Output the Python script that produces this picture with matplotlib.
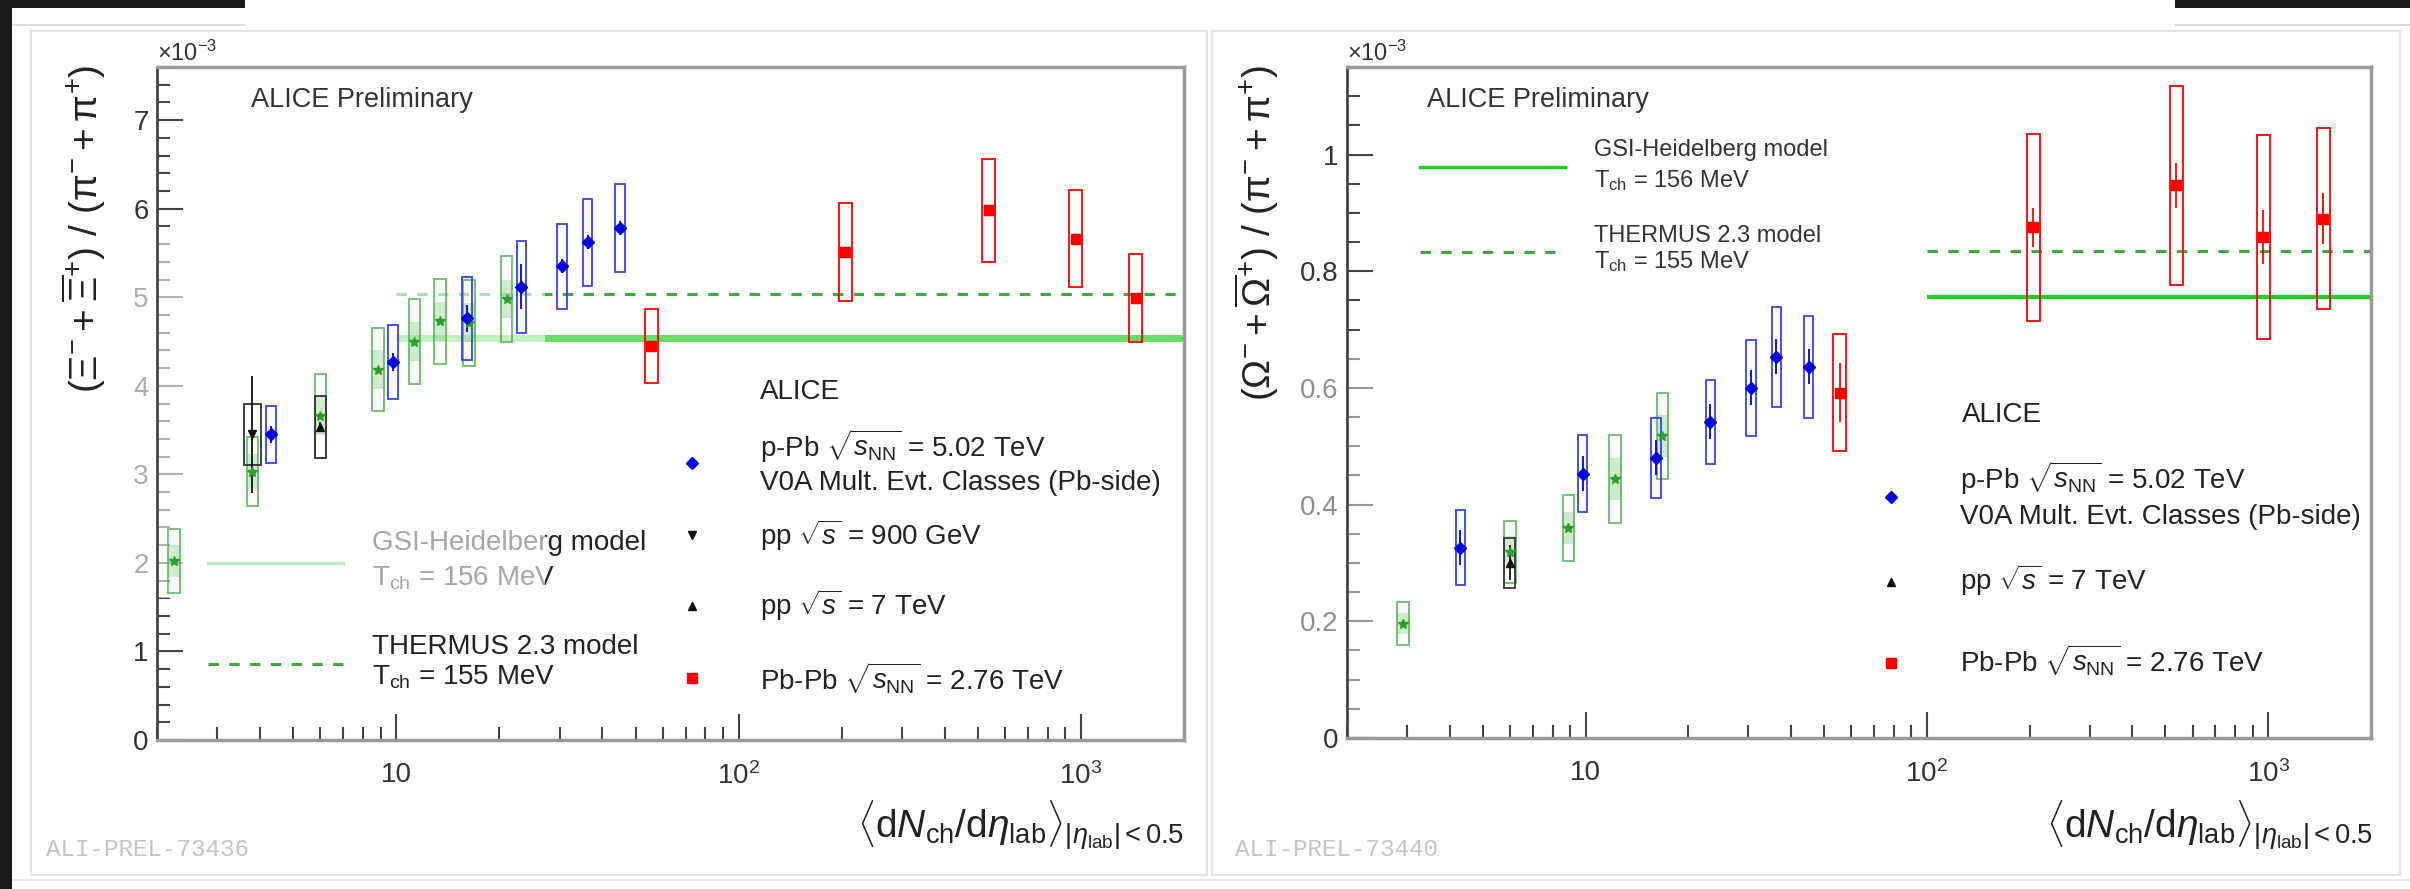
import numpy as np
import matplotlib
matplotlib.use("Agg")
import matplotlib.pyplot as plt
from matplotlib.patches import Rectangle
from matplotlib.ticker import LogLocator, NullFormatter, MultipleLocator

plt.rcParams['font.family'] = ['Liberation Sans', 'DejaVu Sans']
plt.rcParams['mathtext.fontset'] = 'custom'
plt.rcParams['mathtext.rm'] = 'Liberation Sans'
plt.rcParams['mathtext.it'] = 'Liberation Sans:italic'
plt.rcParams['mathtext.bf'] = 'Liberation Sans:bold'
plt.rcParams['mathtext.sf'] = 'Liberation Sans'

# ---- data: Xi / pi  (x10^-3) ----
xi_ppb_x = [4.3, 9.8, 16.1, 23.2, 30.5, 36.2, 45.0]
xi_ppb_y = [3.45, 4.27, 4.76, 5.12, 5.35, 5.62, 5.78]
xi_ppb_stat = [0.10, 0.10, 0.15, 0.25, 0.08, 0.08, 0.08]
xi_ppb_syst = [0.32, 0.42, 0.47, 0.52, 0.48, 0.49, 0.50]

xi_pbpb_x = [55.5, 205.0, 537.5, 966.0, 1447.5]
xi_pbpb_y = [4.45, 5.51, 5.98, 5.66, 4.99]
xi_pbpb_stat = [0.05, 0.05, 0.05, 0.05, 0.05]
xi_pbpb_syst = [0.42, 0.55, 0.58, 0.55, 0.50]

xi_pp900_x = [3.8]
xi_pp900_y = [3.45]
xi_pp900_stat = [0.66]
xi_pp900_syst = [0.35]

xi_pp7_x = [6.0]
xi_pp7_y = [3.54]
xi_pp7_stat = [0.05]
xi_pp7_syst = [0.35]

xi_green_x = [2.24, 3.8, 6.0, 8.86, 11.3, 13.4, 16.3, 21.0]
xi_green_y = [2.02, 3.03, 3.66, 4.18, 4.50, 4.73, 4.71, 4.98]
xi_green_syst = [0.36, 0.39, 0.47, 0.47, 0.48, 0.48, 0.49, 0.49]
xi_green_unc = [0.18, 0.20, 0.22, 0.22, 0.22, 0.22, 0.22, 0.22]

xi_gsi = 4.54
xi_thermus = 5.04
xi_model_x = [10, 2000]

# ---- data: Omega / pi  (x10^-3) ----
om_ppb_x = [4.3, 9.8, 16.1, 23.2, 30.5, 36.2, 45.0]
om_ppb_y = [0.326, 0.453, 0.480, 0.542, 0.600, 0.653, 0.636]
om_ppb_stat = [0.030, 0.030, 0.030, 0.030, 0.030, 0.030, 0.030]
om_ppb_syst = [0.064, 0.066, 0.068, 0.072, 0.082, 0.085, 0.087]

om_pbpb_x = [55.5, 205.0, 537.5, 966.0, 1447.5]
om_pbpb_y = [0.592, 0.875, 0.947, 0.859, 0.890]
om_pbpb_stat = [0.050, 0.034, 0.039, 0.046, 0.044]
om_pbpb_syst = [0.100, 0.160, 0.170, 0.175, 0.155]

om_pp7_x = [6.0]
om_pp7_y = [0.300]
om_pp7_stat = [0.030]
om_pp7_syst = [0.043]

om_green_x = [2.92, 6.0, 8.9, 12.2, 16.8]
om_green_y = [0.196, 0.319, 0.360, 0.444, 0.518]
om_green_syst = [0.037, 0.053, 0.057, 0.076, 0.074]
om_green_unc = [0.018, 0.027, 0.028, 0.036, 0.036]

om_gsi = 0.755
om_thermus = 0.834
om_model_x = [100, 2000]

W, H = 2410, 889
fig = plt.figure(figsize=(W / 100, H / 100), dpi=100)
fig.patch.set_facecolor('white')


def P(x, y):
    # pixel position -> figure fraction
    return (x / W, 1 - y / H)


def boxes(ax, x, y, err, color, hw, lw=1.3, fill=False, alpha=1.0, z=3):
    for xi, yi, ei in zip(x, y, err):
        lo, hi = xi * 10 ** -hw, xi * 10 ** hw
        if fill:
            ax.add_patch(Rectangle((lo, yi - ei), hi - lo, 2 * ei, fc=color, ec='none',
                                   alpha=alpha, zorder=z))
        else:
            ax.add_patch(Rectangle((lo, yi - ei), hi - lo, 2 * ei, fill=False, ec=color,
                                   lw=lw, alpha=alpha, zorder=z))


def points(ax, x, y, stat, color, marker, ms, z=4):
    ax.errorbar(x, y, yerr=stat, fmt=marker, color=color, ms=ms, elinewidth=1.3,
                capsize=0, zorder=z, mec=color)


def style_axes(ax, ymax, yticks, ylabels, yminor):
    ax.set_xscale('log')
    ax.set_xlim(2, 2000)
    ax.set_ylim(0, ymax)
    ax.set_axisbelow(True)
    ax.set_xticks([10, 100, 1000], labels=['10', r'$10^{2}$', r'$10^{3}$'])
    ax.xaxis.set_minor_locator(LogLocator(base=10, subs=np.arange(2, 10)))
    ax.xaxis.set_minor_formatter(NullFormatter())
    ax.set_yticks(yticks, labels=ylabels)
    ax.yaxis.set_minor_locator(MultipleLocator(yminor))
    ax.tick_params(which='both', direction='in', top=False, right=False,
                   color='#444444', width=1.5, labelsize=20, labelcolor='#333333')
    ax.tick_params(which='major', length=19)
    ax.tick_params(which='minor', length=9.5)
    ax.tick_params(axis='y', pad=6)
    ax.tick_params(axis='x', pad=16)
    for s in ['top', 'right', 'bottom']:
        ax.spines[s].set_color('#9a9a9a')
        ax.spines[s].set_linewidth(2.5)
    ax.spines['left'].set_color('#444444')
    ax.spines['left'].set_linewidth(2)


def ftext(ax, x, y, s, size=20, color='#222222', ha='left', va='center', z=5, **kw):
    ax.text(*P(x, y), s, transform=fig.transFigure, fontsize=size, color=color,
            ha=ha, va=va, zorder=z, clip_on=False, **kw)


def fmark(ax, x, y, marker, color, ms):
    ax.plot(*[[v] for v in P(x, y)], marker=marker, color=color, ms=ms, ls='none',
            transform=fig.transFigure, clip_on=False, zorder=5)


def fline(ax, x0, x1, y, **kw):
    ax.plot([P(x0, y)[0], P(x1, y)[0]], [P(x0, y)[1]] * 2, transform=fig.transFigure,
            clip_on=False, **kw)


BLUE = '#0000dd'
RED = '#ff0000'
GREEN = '#44b044'
BLACK = '#111111'
XLABEL = r'$\langle\mathrm{d}N_{\mathrm{ch}}/\mathrm{d}\eta_{\mathrm{lab}}\rangle_{|\eta_{\mathrm{lab}}|<0.5}$'

# ---------------- left panel ----------------
axL = fig.add_axes([157 / W, 1 - 740 / H, 1027 / W, 673 / H])
style_axes(axL, 7.6, range(8), [str(i) for i in range(8)], 0.2)

axL.plot(xi_model_x, [xi_gsi] * 2, color='#66dd66', lw=5, zorder=1.5, solid_capstyle='butt')
axL.plot(xi_model_x, [xi_thermus] * 2, color='#3fa83f', lw=2.2, dashes=(3.4, 3.4), zorder=1.5)

boxes(axL, xi_green_x, xi_green_y, xi_green_unc, '#88cc88', 0.017, fill=True, alpha=0.4)
boxes(axL, xi_green_x, xi_green_y, xi_green_syst, GREEN, 0.017, alpha=0.8)
points(axL, xi_green_x, xi_green_y, [0.03] * len(xi_green_x), '#2e9e2e', '*', 7)

boxes(axL, xi_pp900_x, xi_pp900_y, xi_pp900_syst, '#333333', 0.025)
points(axL, xi_pp900_x, xi_pp900_y, xi_pp900_stat, BLACK, 'v', 6)
boxes(axL, xi_pp7_x, xi_pp7_y, xi_pp7_syst, '#333333', 0.016)
points(axL, xi_pp7_x, xi_pp7_y, xi_pp7_stat, BLACK, '^', 6)

boxes(axL, xi_ppb_x, xi_ppb_y, xi_ppb_syst, '#3344ee', 0.014)
points(axL, xi_ppb_x, xi_ppb_y, xi_ppb_stat, BLUE, 'D', 6)

boxes(axL, xi_pbpb_x, xi_pbpb_y, xi_pbpb_syst, RED, 0.019)
points(axL, xi_pbpb_x, xi_pbpb_y, xi_pbpb_stat, RED, 's', 7)

# faint overlay left over from the slide (fades lines / ticks below it)
axL.add_patch(Rectangle(P(116, 598), (545 - 116) / W, (598 - 233) / H, transform=fig.transFigure,
                        fc='white', ec='none', alpha=0.6, zorder=2, clip_on=False))

ftext(axL, 251, 100, 'ALICE Preliminary', size=19.5, color='#333333')

fline(axL, 208, 343, 563, color='#55cc55', lw=2.4, zorder=1.5)
fline(axL, 208, 343, 664, color='#3fa83f', lw=2.2, dashes=(3.4, 3.4), zorder=1.5)
ftext(axL, 372, 543, 'GSI-Heidelberg model', z=1.8)
ftext(axL, 372, 578, r'T$_{\mathrm{ch}}$ = 156 MeV', z=1.8)
ftext(axL, 372, 647, 'THERMUS 2.3 model')
ftext(axL, 372, 677, r'T$_{\mathrm{ch}}$ = 155 MeV')

ftext(axL, 760, 392, 'ALICE')
fmark(axL, 692, 463, 'D', BLUE, 6)
ftext(axL, 760, 446, r'p-Pb $\sqrt{s_{\mathrm{NN}}}$ = 5.02 TeV')
ftext(axL, 760, 483, 'V0A Mult. Evt. Classes (Pb-side)')
fmark(axL, 692, 535, 'v', BLACK, 6)
ftext(axL, 760, 535, r'pp $\sqrt{s}$ = 900 GeV')
fmark(axL, 692, 606, '^', BLACK, 6)
ftext(axL, 760, 605, r'pp $\sqrt{s}$ = 7 TeV')
fmark(axL, 692, 678, 's', RED, 7)
ftext(axL, 760, 678, r'Pb-Pb $\sqrt{s_{\mathrm{NN}}}$ = 2.76 TeV')

ftext(axL, 157, 66, r'$\times$10$^{-3}$', size=17, color='#333333', va='bottom')
ftext(axL, 84, 65, r'$(\Xi^{-} + \overline{\Xi}^{+})\ /\ (\mathrm{\pi}^{-} + \mathrm{\pi}^{+})$', size=28,
      color='#222222', ha='center', va='top', rotation=90)
ftext(axL, 1184, 826, XLABEL, size=28, color='#222222', ha='right')
ftext(axL, 46, 850, 'ALI-PREL-73436', size=17.5, color='#c4c4c4', family='Liberation Mono')

# ---------------- right panel ----------------
axR = fig.add_axes([1347 / W, 1 - 738 / H, 1024 / W, 671 / H])
style_axes(axR, 1.15, [0, 0.2, 0.4, 0.6, 0.8, 1.0], ['0', '0.2', '0.4', '0.6', '0.8', '1'], 0.05)

axR.plot(om_model_x, [om_gsi] * 2, color='#22cc22', lw=3, zorder=1.5, solid_capstyle='butt')
axR.plot(om_model_x, [om_thermus] * 2, color='#3fa83f', lw=2.2, dashes=(3.4, 3.4), zorder=1.5)

boxes(axR, om_green_x, om_green_y, om_green_unc, '#88cc88', 0.017, fill=True, alpha=0.4)
boxes(axR, om_green_x, om_green_y, om_green_syst, GREEN, 0.017, alpha=0.8)
points(axR, om_green_x, om_green_y, [0.006] * len(om_green_x), '#2e9e2e', '*', 7)

boxes(axR, om_pp7_x, om_pp7_y, om_pp7_syst, '#333333', 0.016)
points(axR, om_pp7_x, om_pp7_y, om_pp7_stat, BLACK, '^', 6)

boxes(axR, om_ppb_x, om_ppb_y, om_ppb_syst, '#3344ee', 0.014)
points(axR, om_ppb_x, om_ppb_y, om_ppb_stat, BLUE, 'D', 6)

boxes(axR, om_pbpb_x, om_pbpb_y, om_pbpb_syst, RED, 0.019)
points(axR, om_pbpb_x, om_pbpb_y, om_pbpb_stat, RED, 's', 7)

axR.add_patch(Rectangle(P(1300, 712), (1905 - 1300) / W, (712 - 347) / H, transform=fig.transFigure,
                        fc='white', ec='none', alpha=0.45, zorder=2, clip_on=False))

ftext(axR, 1427, 100, 'ALICE Preliminary', size=19.5, color='#333333')

fline(axR, 1420, 1565, 167, color='#22cc22', lw=2.4, zorder=1.5)
fline(axR, 1420, 1556, 252, color='#3fa83f', lw=2.2, dashes=(3.4, 3.4), zorder=1.5)
ftext(axR, 1594, 150, 'GSI-Heidelberg model', size=17, color='#333333')
ftext(axR, 1594, 181, r'T$_{\mathrm{ch}}$ = 156 MeV', size=17, color='#333333')
ftext(axR, 1594, 236, 'THERMUS 2.3 model', size=17, color='#333333')
ftext(axR, 1594, 262, r'T$_{\mathrm{ch}}$ = 155 MeV', size=17, color='#333333')

ftext(axR, 1962, 415, 'ALICE')
fmark(axR, 1891, 497, 'D', BLUE, 6)
ftext(axR, 1960, 478, r'p-Pb $\sqrt{s_{\mathrm{NN}}}$ = 5.02 TeV')
ftext(axR, 1960, 517, 'V0A Mult. Evt. Classes (Pb-side)')
fmark(axR, 1891, 582, '^', BLACK, 6)
ftext(axR, 1960, 580, r'pp $\sqrt{s}$ = 7 TeV')
fmark(axR, 1891, 663, 's', RED, 7)
ftext(axR, 1960, 660, r'Pb-Pb $\sqrt{s_{\mathrm{NN}}}$ = 2.76 TeV')

ftext(axR, 1347, 66, r'$\times$10$^{-3}$', size=17, color='#333333', va='bottom')
ftext(axR, 1257, 65, r'$(\Omega^{-} + \overline{\Omega}^{+})\ /\ (\mathrm{\pi}^{-} + \mathrm{\pi}^{+})$', size=28,
      color='#222222', ha='center', va='top', rotation=90)
ftext(axR, 2373, 826, XLABEL, size=28, color='#222222', ha='right')
ftext(axR, 1235, 850, 'ALI-PREL-73440', size=17.5, color='#c4c4c4', family='Liberation Mono')

# ---------------- screenshot surroundings ----------------
def frect(x0, y0, x1, y1, **kw):
    fig.add_artist(Rectangle(P(x0, y1), (x1 - x0) / W, (y1 - y0) / H,
                             transform=fig.transFigure, **kw))

frect(31, 31, 1207, 875, fill=False, ec='#e4e4e4', lw=1.5)
frect(1212, 31, 2400, 875, fill=False, ec='#e4e4e4', lw=1.5)
frect(0, 879, W, 881, fc='#e8e8e8', ec='none')
frect(12, 24, 245, 26, fc='#dddddd', ec='none')
frect(2175, 24, W, 26, fc='#dddddd', ec='none')
frect(0, 0, 12, H, fc='#1b1b1b', ec='none')
frect(0, 0, 245, 8, fc='#1b1b1b', ec='none')
frect(2175, 0, W, 8, fc='#1b1b1b', ec='none')

fig.savefig('out.png', dpi=100)
